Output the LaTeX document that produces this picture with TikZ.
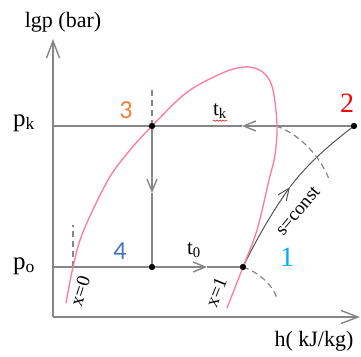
\documentclass[tikz,border=0pt]{standalone}
\usepackage{fontspec}
\setmainfont{Liberation Serif}
\newfontfamily\digitfont{Carlito}
\usetikzlibrary{arrows.meta, decorations.pathmorphing}
\definecolor{domepink}{HTML}{FF7A98}
\definecolor{lineg}{HTML}{868686}
\definecolor{sgray}{HTML}{555555}
\definecolor{ptorange}{HTML}{F0803C}
\definecolor{ptred}{HTML}{FF0000}
\definecolor{ptblue}{HTML}{4472C4}
\definecolor{ptcyan}{HTML}{00B0F0}

\tikzset{
  axis/.style={lineg, line width=1.4pt},
  axtip/.style={-{Straight Barb[length=17pt,width=13pt]}},
  midtip/.style={-{Straight Barb[length=12pt,width=10pt]}},
  proc/.style={lineg, line width=1.4pt},
  sline/.style={sgray, line width=1pt},
  dashline/.style={lineg, line width=1.2pt, dash pattern=on 6pt off 4pt},
  dot/.style={circle, fill=black, inner sep=0pt, minimum size=6pt},
  numlab/.style={font=\digitfont\fontsize{26}{26}\selectfont},
  serlab/.style={font=\fontsize{22}{22}\selectfont},
  rotlab/.style={font=\fontsize{19}{19}\selectfont, inner sep=0pt}
}

\begin{document}
\begin{tikzpicture}[x=1pt, y=-1pt]
  \useasboundingbox (0,0) rectangle (361,356);
  % axes
  \coordinate (O) at (53,317);
  \coordinate (ytop) at (53,39);
  \coordinate (xend) at (360,317);
  \coordinate (pk) at (53,126);
  \coordinate (po) at (53,267);
  \draw[axis, axtip] (O) -- (ytop);
  \draw[axis, axtip] (O) -- (xend);
  \node[serlab] (ylab) at (63,22) {lgp (bar)};
  \node[serlab] (xlab) at (314,341) {h( kJ/kg)};
  \node[font=\fontsize{25}{25}\selectfont] (pklab) at (24,123) {p\textsubscript{k}};
  \node[font=\fontsize{25}{25}\selectfont] (polab) at (24,266) {p\textsubscript{o}};

  % cycle points
  \node[dot] (p1) at (243,267) {};
  \node[dot] (p2) at (354,126) {};
  \node[dot] (p3) at (152,126) {};
  \node[dot] (p4) at (152,267) {};

  % isobars and throttling
  \coordinate (ak) at (242,126);
  \coordinate (a0) at (207,267);
  \coordinate (a34) at (152,193);
  \draw[proc, midtip] (p2.center) -- (ak);
  \draw[proc] (ak) -- (pk);
  \draw[proc, midtip] (po) -- (a0);
  \draw[proc] (a0) -- (p1.center);
  \draw[proc, midtip] (p3.center) -- (a34);
  \draw[proc] (a34) -- (p4.center);

  % isentropic compression
  \coordinate (ms) at (290,187);
  \draw[sline, midtip] (p1.center) .. controls (255,242) and (272,212) .. (ms);
  \draw[sline] (ms) .. controls (305,167) and (325,148) .. (p2.center);

  % dashed helpers
  \coordinate (d3) at (152,86);
  \coordinate (x0a) at (73,267);
  \coordinate (x0b) at (73,225);
  \coordinate (c2) at (276,126);
  \coordinate (e2) at (330,182);
  \coordinate (e1) at (277,298);
  \draw[dashline] (p3.center) -- (d3);
  \draw[dashline] (x0a) -- (x0b);
  \draw[dashline] (c2) .. controls (300,134) and (322,158) .. (e2);
  \draw[dashline] (p1.center) .. controls (258,272) and (272,284) .. (e1);

  % saturation dome
  \draw[domepink, line width=1.3pt] plot[smooth, tension=0.55] coordinates {
    (66,303) (73,267) (83,232) (108,180) (130,150) (152,126) (180,98)
    (200,84) (230,70) (250,67) (265,74) (273,90) (277,125) (275,155)
    (269,180) (257,230) (243,267) (227,308)};

  \fill (p1) circle (3pt);
  \fill (p2) circle (3pt);
  \fill (p3) circle (3pt);
  \fill (p4) circle (3pt);

  % labels
  \node[numlab, text=ptorange] (n3) at (126,110) {3};
  \node[serlab, font=\fontsize{28}{28}\selectfont, text=ptred] (n2) at (347,103) {2};
  \node[numlab, text=ptblue] (n4) at (120,251) {4};
  \node[serlab, font=\fontsize{28}{28}\selectfont, text=ptcyan] (n1) at (287,257) {1};
  \node[font=\fontsize{21}{21}\selectfont, inner sep=0pt] (tk) at (220,111) {t\textsubscript{k}};
  \draw[red, line width=0.5pt, decorate,
        decoration={snake, amplitude=0.7pt, segment length=3pt}]
    ([yshift=-2pt]tk.south west) -- ([yshift=-2pt]tk.south east);
  \node[font=\fontsize{21}{21}\selectfont] (t0) at (194,250) {t\textsubscript{0}};
  \node[rotlab, rotate=50] (slab) at (298,211) {s=const};
  \node[rotlab, rotate=68] (x1lab) at (216,292) {x=1};
  \node[rotlab, rotate=72] (x0lab) at (80,291) {x=0};
\end{tikzpicture}
\end{document}
